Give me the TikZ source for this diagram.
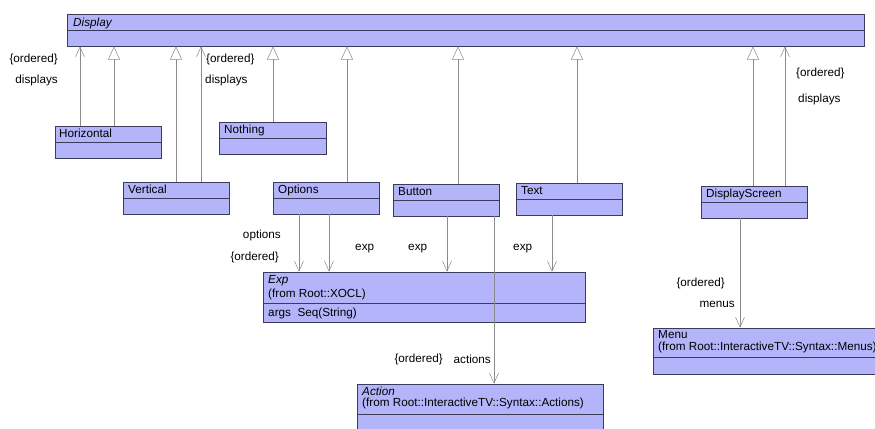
\documentclass[tikz,border=0pt]{standalone}
\usepackage{fontspec}
\setmainfont{Liberation Sans}
\usetikzlibrary{arrows.meta, fit}
\definecolor{classfill}{RGB}{180,180,250}
\definecolor{classdraw}{RGB}{60,60,90}
\definecolor{linkcol}{RGB}{140,140,140}
\tikzset{
  cls/.style={draw=classdraw, fill=classfill, inner sep=0pt, line width=0.5pt},
  divider/.style={draw=classdraw, line width=0.5pt},
  clsname/.style={anchor=base west, inner sep=0pt, font=\fontsize{10}{12}\selectfont},
  abstract/.style={clsname, font=\fontsize{10}{12}\selectfont\itshape},
  role/.style={inner sep=0pt, font=\fontsize{10}{12}\selectfont},
  gen/.style={-{Triangle[open, length=4mm, width=3.6mm, fill=white]}, linkcol, line width=0.45pt},
  assoc/.style={-{Straight Barb[length=3mm, width=2.7mm]}, linkcol, line width=0.45pt},
}

\begin{document}
\begin{tikzpicture}[x=0.3mm, y=-0.3mm]
    \useasboundingbox (0,0) rectangle (875,428);
    \clip (0,0) rectangle (875,428);

    % superclass
    \node[cls, fit={(67,14) (864,46)}] (display) {};
    \draw[divider] (display.west |- 0,30) -- (display.east |- 0,30);
    \node[abstract] at (73,26) {Display};

    % subclasses
    \node[cls, fit={(55,126) (161,158)}] (horiz) {};
    \draw[divider] (horiz.west |- 0,142) -- (horiz.east |- 0,142);
    \node[clsname] at (59,137) {Horizontal};
    \node[cls, fit={(219,122) (326,154)}] (nothing) {};
    \draw[divider] (nothing.west |- 0,138) -- (nothing.east |- 0,138);
    \node[clsname] at (224,133) {Nothing};
    \node[cls, fit={(123,182) (229,214)}] (vert) {};
    \draw[divider] (vert.west |- 0,198) -- (vert.east |- 0,198);
    \node[clsname] at (128,193) {Vertical};
    \node[cls, fit={(273,182) (379,214)}] (options) {};
    \draw[divider] (options.west |- 0,198) -- (options.east |- 0,198);
    \node[clsname] at (278,193) {Options};
    \node[cls, fit={(393,184) (499,216)}] (button) {};
    \draw[divider] (button.west |- 0,200) -- (button.east |- 0,200);
    \node[clsname] at (398,195) {Button};
    \node[cls, fit={(516,183) (622,215)}] (text) {};
    \draw[divider] (text.west |- 0,199) -- (text.east |- 0,199);
    \node[clsname] at (521,194) {Text};
    \node[cls, fit={(701,186) (807,218)}] (screen) {};
    \draw[divider] (screen.west |- 0,202) -- (screen.east |- 0,202);
    \node[clsname] at (706,197) {DisplayScreen};

    % referenced classes
    \node[cls, fit={(263,272) (585,322)}] (exp) {};
    \draw[divider] (exp.west |- 0,303) -- (exp.east |- 0,303);
    \node[abstract] at (268,283) {Exp};
    \node[clsname] at (268,297) {(from Root::XOCL)};
    \node[clsname] at (268,316) {args\ \ Seq(String)};
    \node[cls, fit={(653,328) (905,374)}] (menu) {};
    \draw[divider] (menu.west |- 0,357) -- (menu.east |- 0,357);
    \node[clsname] at (658,338) {Menu};
    \node[clsname] at (658,350) {(from Root::InteractiveTV::Syntax::Menus)};
    \node[cls, fit={(357,384) (603,440)}] (action) {};
    \draw[divider] (action.west |- 0,414) -- (action.east |- 0,414);
    \node[abstract] at (362,395) {Action};
    \node[clsname] at (362,406) {(from Root::InteractiveTV::Syntax::Actions)};

    % generalisations
    \draw[gen] (horiz.north -| 114,0) -- (display.south -| 114,0);
    \draw[gen] (vert.north -| 176,0) -- (display.south -| 176,0);
    \draw[gen] (nothing.north -| 273,0) -- (display.south -| 273,0);
    \draw[gen] (options.north -| 347,0) -- (display.south -| 347,0);
    \draw[gen] (button.north -| 458,0) -- (display.south -| 458,0);
    \draw[gen] (text.north -| 577,0) -- (display.south -| 577,0);
    \draw[gen] (screen.north -| 753,0) -- (display.south -| 753,0);

    % associations
    \draw[assoc] (horiz.north -| 80,0) -- (display.south -| 80,0);
    \node[role, anchor=east] at (58,59) {\{ordered\}};
    \node[role, anchor=east] at (58,80) {displays};
    \draw[assoc] (vert.north -| 201,0) -- (display.south -| 201,0);
    \node[role, anchor=west] at (206,59) {\{ordered\}};
    \node[role, anchor=west] at (205,80) {displays};
    \draw[assoc] (screen.north -| 785,0) -- (display.south -| 785,0);
    \node[role, anchor=west] at (796,73) {\{ordered\}};
    \node[role, anchor=west] at (798,99) {displays};
    \draw[assoc] (options.south -| 299,0) -- (exp.north -| 299,0);
    \node[role, anchor=east] at (281,235) {options};
    \node[role, anchor=east] at (279,257) {\{ordered\}};
    \draw[assoc] (options.south -| 329,0) -- (exp.north -| 329,0);
    \node[role, anchor=west] at (355,249) {exp};
    \draw[assoc] (button.south -| 447,0) -- (exp.north -| 447,0);
    \node[role, anchor=west] at (408,249) {exp};
    \draw[assoc] (text.south -| 552,0) -- (exp.north -| 552,0);
    \node[role, anchor=west] at (513,249) {exp};
    \draw[assoc] (button.south -| 494,0) -- (action.north -| 494,0);
    \node[role, anchor=east] at (443,359) {\{ordered\}};
    \node[role, anchor=east] at (491,359) {actions};
    \draw[assoc] (screen.south -| 740,0) -- (menu.north -| 740,0);
    \node[role, anchor=east] at (725,283) {\{ordered\}};
    \node[role, anchor=east] at (735,304) {menus};
\end{tikzpicture}
\end{document}
